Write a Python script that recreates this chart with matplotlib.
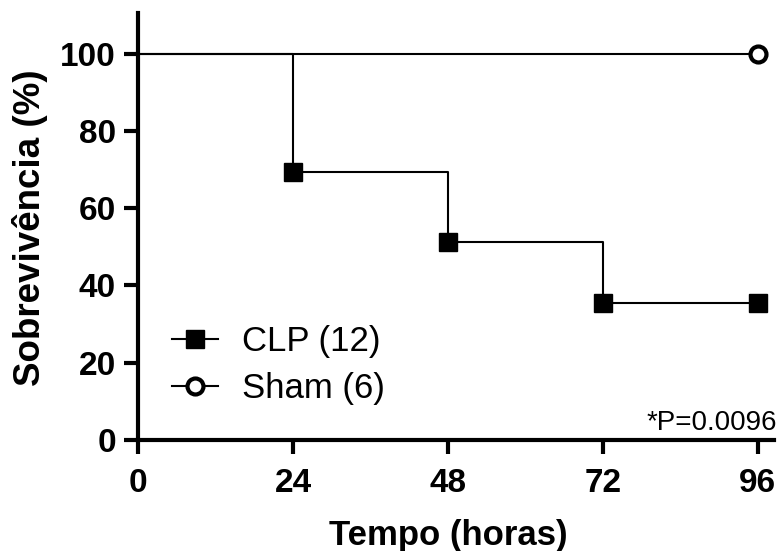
import matplotlib
matplotlib.use("Agg")
import matplotlib.pyplot as plt

plt.rcParams['font.family'] = ['Liberation Sans', 'DejaVu Sans']

# tempo (horas) e sobrevivencia (%)
tempo_clp = [0, 24, 48, 72, 96]
sobrev_clp = [100, 69.4, 51.3, 35.5, 35.5]
tempo_sham = [0, 96]
sobrev_sham = [100, 100]

xticks = [0, 24, 48, 72, 96]
yticks = [0, 20, 40, 60, 80, 100]
p_text = "*P=0.0096"

fig = plt.figure(figsize=(7.77, 5.51), dpi=100)
xmax = 98.5
ax = fig.add_axes([138/777, 111/551, (774-138)/777, (440-13)/551])

ax.plot(tempo_clp, sobrev_clp, drawstyle='steps-post', color='black', lw=1.5,
        marker='s', ms=12.5, markevery=[1, 2, 3, 4], mfc='black', mec='black',
        clip_on=False, label='CLP (12)')
ax.plot(tempo_sham, sobrev_sham, drawstyle='steps-post', color='black', lw=1.5,
        marker='o', ms=11.5, markevery=[1], mfc='white', mec='black', mew=3,
        clip_on=False, label='Sham (6)')

ax.set_xlim(0, xmax)
ax.set_ylim(0, 110.5)
ax.set_xticks(xticks)
ax.set_yticks(yticks)

for s in ['top', 'right']:
    ax.spines[s].set_visible(False)
for s in ['left', 'bottom']:
    ax.spines[s].set_linewidth(3)
ax.tick_params(width=3, length=10, labelsize=24)
ax.tick_params(axis='x', pad=10)
ax.tick_params(axis='y', pad=6)
for lab in ax.get_xticklabels() + ax.get_yticklabels():
    lab.set_fontweight('bold')

ax.set_xlabel('Tempo (horas)', fontsize=25, fontweight='bold')
ax.xaxis.set_label_coords(48/xmax, -0.185)
ax.set_ylabel('Sobrevivência (%)', fontsize=26.5, fontweight='bold')
ax.yaxis.set_label_coords(-0.142, 0.497)

leg = ax.legend(loc='center left', bbox_to_anchor=(0.005, 0.175), frameon=False,
                fontsize=25, handlelength=1.3, handletextpad=0.7, labelspacing=0.4)

ax.text(1.005, 0.01, p_text, transform=ax.transAxes, ha='right', va='bottom', fontsize=20)

fig.savefig('out.png', dpi=100)
